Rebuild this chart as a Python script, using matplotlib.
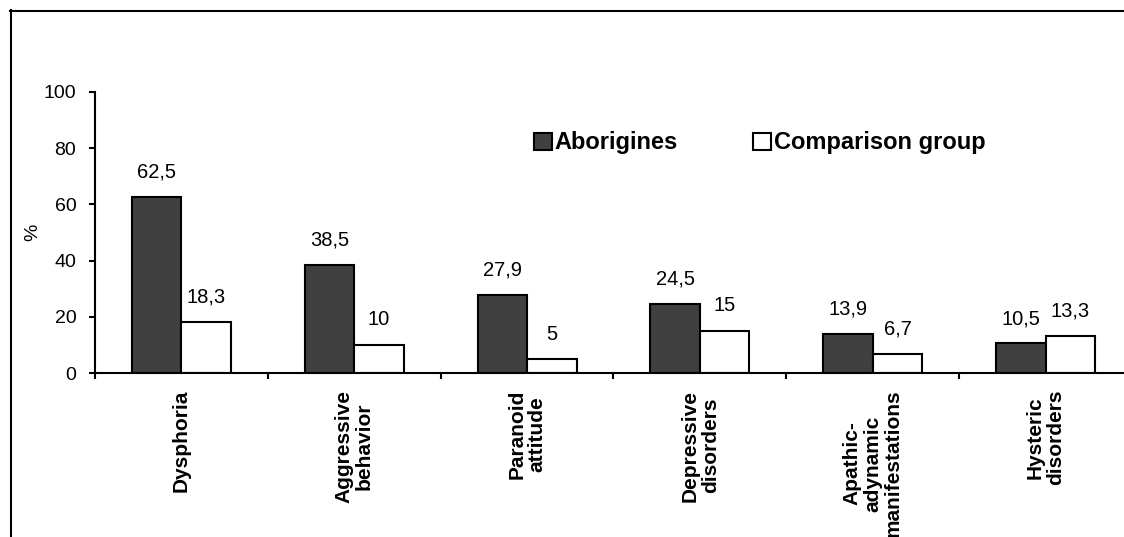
import matplotlib
matplotlib.use("Agg")
import matplotlib.pyplot as plt
from matplotlib.lines import Line2D
import numpy as np

plt.rcParams['font.family'] = ['Liberation Sans', 'DejaVu Sans']

# Data
categories = ["Dysphoria", "Aggressive\nbehavior", "Paranoid\nattitude",
              "Depressive\ndisorders", "Apathic-\nadynamic\nmanifestations",
              "Hysteric\ndisorders"]
aborigines = [62.5, 38.5, 27.9, 24.5, 13.9, 10.5]
comparison = [18.3, 10, 5, 15, 6.7, 13.3]
series_names = ["Aborigines", "Comparison group"]
y_ticks = [0, 20, 40, 60, 80, 100]

W, H = 1124, 537
fig = plt.figure(figsize=(W / 100, H / 100), dpi=100)

# Axes placed in pixel terms; right end runs slightly past the canvas
left_px, right_px, bottom_px, top_px = 95, 1132, 373, 92
ax = fig.add_axes([left_px / W, 1 - bottom_px / H,
                   (right_px - left_px) / W, (bottom_px - top_px) / H])

x = np.arange(len(categories))
bw = 0.286
dark = '#404040'
b1 = ax.bar(x - bw / 2, aborigines, bw, color=dark, edgecolor='black',
            linewidth=1.5, label=series_names[0])
b2 = ax.bar(x + bw / 2, comparison, bw, color='white', edgecolor='black',
            linewidth=1.5, label=series_names[1])


def fmt(v):
    s = f"{v:g}"
    return s.replace('.', ',')


for bars, vals in ((b1, aborigines), (b2, comparison)):
    for rect, v in zip(bars, vals):
        ax.annotate(fmt(v), (rect.get_x() + rect.get_width() / 2, v),
                    xytext=(0, 14), textcoords='offset points',
                    ha='center', va='baseline', fontsize=14.5)

ax.set_xlim(-0.5, len(categories) - 0.5)
ax.set_ylim(0, 100)
ax.set_yticks(y_ticks)
ax.set_yticklabels([str(t) for t in y_ticks], fontsize=14)
ax.tick_params(axis='y', direction='out', length=4.5, width=1.5, pad=9)

# category boundaries as major ticks, names on minor ticks
ax.set_xticks(np.arange(-0.5, len(categories), 1.0))
ax.set_xticklabels([])
ax.tick_params(axis='x', which='major', direction='out', length=4.5, width=1.5)
ax.set_xticks(x, minor=True)
ax.set_xticklabels(categories, minor=True, rotation=90, fontsize=15,
                   fontweight='bold', va='top', ha='center',
                   multialignment='center', linespacing=1.1)
ax.tick_params(axis='x', which='minor', length=0, pad=12)

for s in ('top', 'right'):
    ax.spines[s].set_visible(False)
for s in ('left', 'bottom'):
    ax.spines[s].set_linewidth(1.5)

ax.set_ylabel('%', fontsize=14)
ax.yaxis.set_label_coords((41 - left_px) / (right_px - left_px), 0.5)

leg = fig.legend(handles=[b1, b2], labels=series_names, loc='center left',
                 bbox_to_anchor=(534 / W, 1 - 143 / H), ncol=2, frameon=False,
                 prop={'size': 17, 'weight': 'bold'}, handlelength=0.75,
                 handleheight=0.75, handletextpad=0.12, columnspacing=3.2,
                 borderpad=0, borderaxespad=0)

# outer frame (top and left edges)
fig.add_artist(Line2D([10 / W, 1.0], [1 - 11 / H, 1 - 11 / H],
                      transform=fig.transFigure, color='black', lw=1.5))
fig.add_artist(Line2D([11 / W, 11 / W], [0, 1 - 10 / H],
                      transform=fig.transFigure, color='black', lw=1.5))

fig.savefig('out.png', dpi=100, facecolor='white')
